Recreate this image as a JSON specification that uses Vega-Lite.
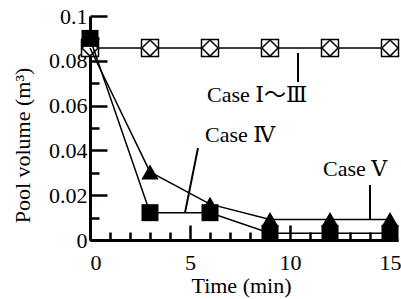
{
  "$schema": "https://vega.github.io/schema/vega-lite/v6.json",
  "autosize": {"type": "none"},
  "padding": {"left": 90, "top": 16, "right": 3, "bottom": 59},
  "width": 308,
  "height": 224,
  "background": "white",
  "config": {
    "view": {"stroke": null},
    "font": "Liberation Serif",
    "axis": {"grid": false, "domainColor": "black", "tickColor": "black", "labelColor": "black", "titleColor": "black", "labelFont": "Liberation Serif", "titleFont": "Liberation Serif", "titleFontWeight": "normal", "labelFontWeight": "normal"}
  },
  "datasets": {
    "series": [
      {"series": "I-III", "t": 0, "v": 0.0857},
      {"series": "I-III", "t": 3, "v": 0.0857},
      {"series": "I-III", "t": 6, "v": 0.0857},
      {"series": "I-III", "t": 9, "v": 0.0857},
      {"series": "I-III", "t": 12, "v": 0.0857},
      {"series": "I-III", "t": 15, "v": 0.0857},
      {"series": "IV", "t": 0, "v": 0.09},
      {"series": "IV", "t": 3, "v": 0.0122},
      {"series": "IV", "t": 6, "v": 0.0122},
      {"series": "IV", "t": 9, "v": 0.003},
      {"series": "IV", "t": 12, "v": 0.003},
      {"series": "IV", "t": 15, "v": 0.003},
      {"series": "V", "t": 0, "v": 0.0857},
      {"series": "V", "t": 3, "v": 0.0304},
      {"series": "V", "t": 6, "v": 0.016},
      {"series": "V", "t": 9, "v": 0.0092},
      {"series": "V", "t": 12, "v": 0.0092},
      {"series": "V", "t": 15, "v": 0.0092}
    ],
    "leaders": [
      {"x": 10.4, "y": 0.0835, "x2": 10.4, "y2": 0.0705},
      {"x": 5.4, "y": 0.0411, "x2": 4.75, "y2": 0.0122},
      {"x": 14.0, "y": 0.0246, "x2": 14.0, "y2": 0.0092}
    ],
    "labels": [
      {"x": 5.85, "y": 0.0647, "text": "Case  Ⅰ～Ⅲ"},
      {"x": 5.75, "y": 0.0469, "text": "Case  Ⅳ"},
      {"x": 11.65, "y": 0.0317, "text": "Case  Ⅴ"}
    ]
  },
  "encoding": {
    "x": {
      "field": "t", "type": "quantitative",
      "scale": {"domain": [0, 15.4], "nice": false, "zero": false},
      "axis": {
        "title": "Time (min)",
        "values": [0,1,2,3,4,5,6,7,8,9,10,11,12,13,14,15],
        "labelExpr": "datum.value % 5 === 0 ? datum.label : ''",
        "labelFontSize": 22,
        "labelFontWeight": "normal",
        "labelPadding": 27,
        "labelDx": -5,
        "tickSize": {"condition": {"test": "datum.value % 5 === 0", "value": -15}, "value": -8},
        "tickWidth": 2.5,
        "domainWidth": 3,
        "titleFontSize": 22,
        "titleFontWeight": "normal",
        "titleX": 151,
        "titleY": 52,
        "titleBaseline": "alphabetic",
        "titleAlign": "center"
      }
    },
    "y": {
      "field": "v", "type": "quantitative",
      "scale": {"domain": [0, 0.1], "nice": false},
      "axis": {
        "title": "Pool volume (m³)",
        "values": [0,0.01,0.02,0.03,0.04,0.05,0.06,0.07,0.08,0.09,0.1],
        "labelExpr": "round(datum.value*100) % 2 === 0 ? format(datum.value, '~g') : ''",
        "labelFontSize": 22,
        "labelFontWeight": "normal",
        "labelPadding": 20,
        "tickSize": {"condition": {"test": "round(datum.value*100) % 2 === 0", "value": -17}, "value": -9},
        "tickWidth": 2.5,
        "domainWidth": 3,
        "titleFontSize": 22,
        "titleFontWeight": "normal",
        "titleAngle": -90,
        "titleX": -68,
        "titleY": 129,
        "titleAlign": "center",
        "titleBaseline": "middle"
      }
    }
  },
  "layer": [
    {
      "data": {"name": "series"},
      "transform": [{"filter": "datum.series === 'I-III'"}],
      "mark": {"type": "line", "color": "black", "strokeWidth": 1.5}
    },
    {
      "data": {"name": "series"},
      "transform": [{"filter": "datum.series === 'I-III'"}],
      "mark": {"type": "point", "shape": "square", "size": 289, "filled": true, "fill": "white", "stroke": "black", "strokeWidth": 1.5, "opacity": 1}
    },
    {
      "data": {"name": "series"},
      "transform": [{"filter": "datum.series === 'I-III'"}],
      "mark": {"type": "point", "shape": "diamond", "size": 260, "filled": true, "fill": "white", "stroke": "black", "strokeWidth": 1.5, "opacity": 1}
    },
    {
      "data": {"name": "series"},
      "transform": [{"filter": "datum.series === 'IV'"}],
      "mark": {"type": "line", "color": "black", "strokeWidth": 1.5}
    },
    {
      "data": {"name": "series"},
      "transform": [{"filter": "datum.series === 'V'"}],
      "mark": {"type": "line", "color": "black", "strokeWidth": 1.5}
    },
    {
      "data": {"name": "series"},
      "transform": [{"filter": "datum.series === 'IV'"}],
      "mark": {"type": "point", "shape": "square", "size": 289, "filled": true, "color": "black", "opacity": 1}
    },
    {
      "data": {"name": "series"},
      "transform": [{"filter": "datum.series === 'V' && datum.t > 0"}],
      "mark": {"type": "point", "shape": "triangle-up", "size": 300, "filled": true, "color": "black", "opacity": 1}
    },
    {
      "data": {"name": "leaders"},
      "mark": {"type": "rule", "color": "black", "strokeWidth": 2},
      "encoding": {
        "x": {"field": "x", "type": "quantitative"},
        "y": {"field": "y", "type": "quantitative"},
        "x2": {"field": "x2"},
        "y2": {"field": "y2"}
      }
    },
    {
      "data": {"name": "labels"},
      "mark": {"type": "text", "align": "left", "baseline": "middle", "fontSize": 22, "font": "Liberation Serif, DejaVu Serif, Noto Sans CJK JP", "color": "black"},
      "encoding": {
        "x": {"field": "x", "type": "quantitative"},
        "y": {"field": "y", "type": "quantitative"},
        "text": {"field": "text"}
      }
    }
  ]
}
